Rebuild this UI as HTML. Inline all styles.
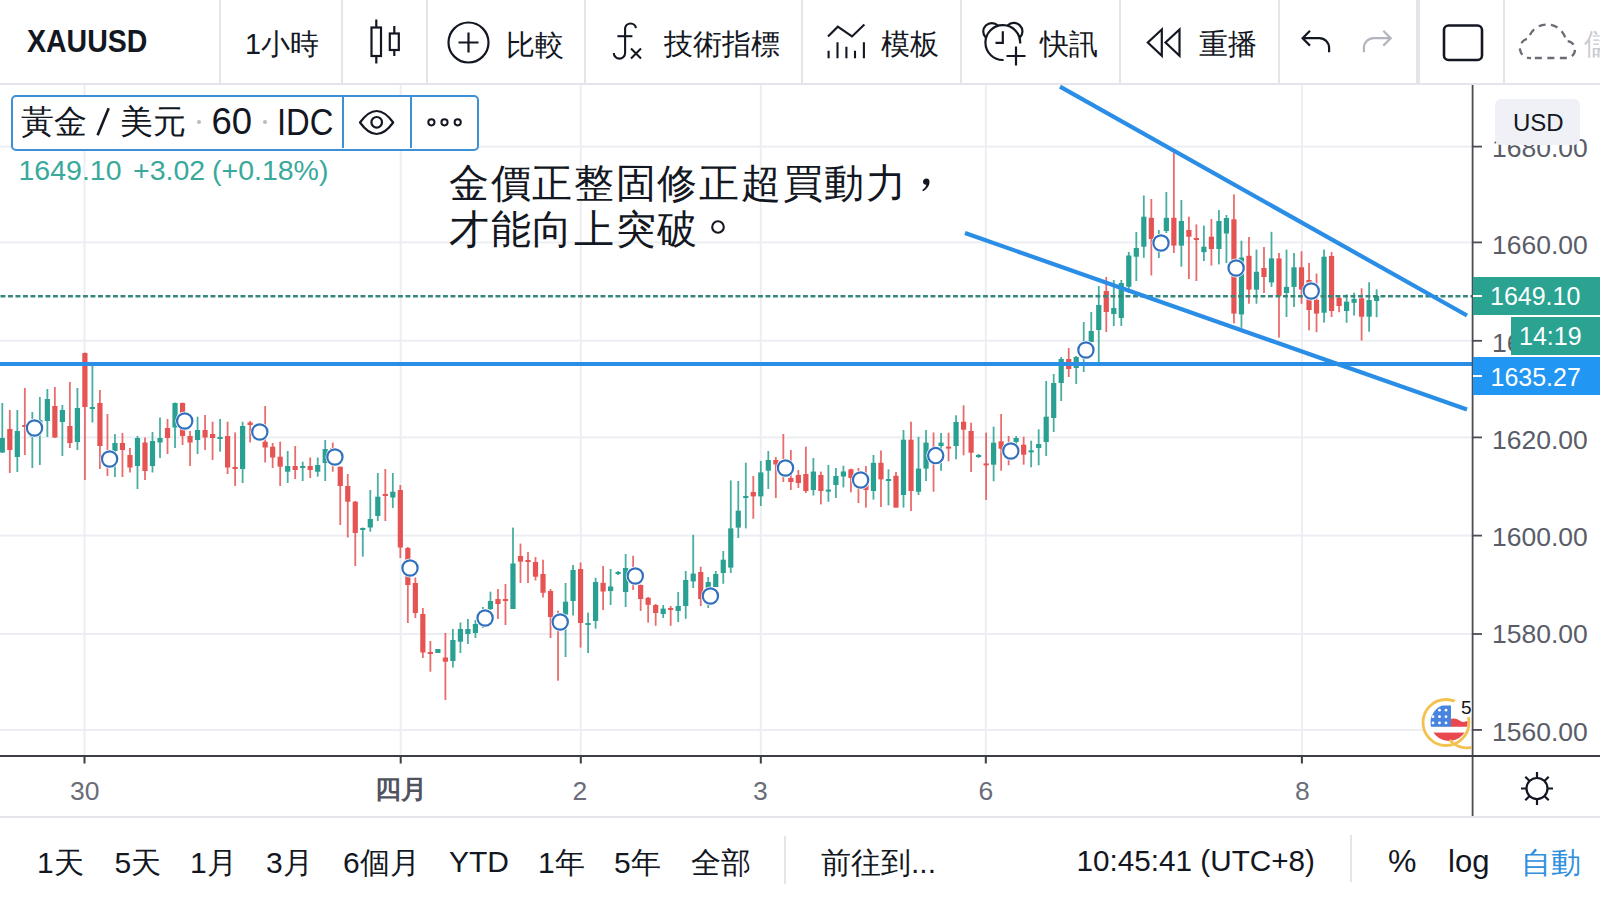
<!DOCTYPE html>
<html><head><meta charset="utf-8">
<style>
html,body{margin:0;padding:0;width:1600px;height:900px;overflow:hidden;background:#fff;}
body{font-family:"Liberation Sans",sans-serif;color:#131722;position:relative;}
.a{position:absolute;white-space:nowrap;line-height:1;}
.sep{position:absolute;background:#e3e5eb;}
.tb{font-size:28.8px;}
.pl{font-size:26.5px;color:#5a5d68;}
.tl{font-size:26.5px;color:#6a6d78;}
.bb{font-size:30px;}
</style></head><body>
<!-- chart svg -->
<svg class="a" style="left:0;top:0" width="1600" height="900" viewBox="0 0 1600 900">
<rect x="83.5" y="85" width="2" height="671" fill="#eceef3"/>
<rect x="399.7" y="85" width="2" height="671" fill="#eceef3"/>
<rect x="579.8" y="85" width="2" height="671" fill="#eceef3"/>
<rect x="759.8" y="85" width="2" height="671" fill="#eceef3"/>
<rect x="984.8" y="85" width="2" height="671" fill="#eceef3"/>
<rect x="1300.9" y="85" width="2" height="671" fill="#eceef3"/>
<rect x="0" y="145.6" width="1472" height="2" fill="#eceef3"/>
<rect x="0" y="241.4" width="1472" height="2" fill="#eceef3"/>
<rect x="0" y="339.8" width="1472" height="2" fill="#eceef3"/>
<rect x="0" y="436.4" width="1472" height="2" fill="#eceef3"/>
<rect x="0" y="534.6" width="1472" height="2" fill="#eceef3"/>
<rect x="0" y="633.0" width="1472" height="2" fill="#eceef3"/>
<rect x="0" y="728.9" width="1472" height="2" fill="#eceef3"/>
<rect x="1.40" y="403.0" width="1.8" height="50.0" fill="#29a091" fill-opacity="0.85"/>
<rect x="-0.30" y="438.0" width="5.2" height="14.5" fill="#29a091"/>
<rect x="8.91" y="410.0" width="1.8" height="63.0" fill="#e65353" fill-opacity="0.85"/>
<rect x="7.21" y="429.0" width="5.2" height="21.0" fill="#e65353"/>
<rect x="16.42" y="410.0" width="1.8" height="62.0" fill="#29a091" fill-opacity="0.85"/>
<rect x="14.72" y="431.0" width="5.2" height="26.0" fill="#29a091"/>
<rect x="23.93" y="388.0" width="1.8" height="67.0" fill="#e65353" fill-opacity="0.85"/>
<rect x="22.23" y="425.0" width="5.2" height="2.0" fill="#e65353"/>
<rect x="31.44" y="412.0" width="1.8" height="56.0" fill="#29a091" fill-opacity="0.85"/>
<rect x="29.74" y="420.0" width="5.2" height="17.0" fill="#29a091"/>
<rect x="38.95" y="397.0" width="1.8" height="68.0" fill="#29a091" fill-opacity="0.85"/>
<rect x="37.25" y="420.0" width="5.2" height="12.0" fill="#29a091"/>
<rect x="46.46" y="389.0" width="1.8" height="48.0" fill="#29a091" fill-opacity="0.85"/>
<rect x="44.76" y="399.0" width="5.2" height="22.0" fill="#29a091"/>
<rect x="53.97" y="387.0" width="1.8" height="51.0" fill="#e65353" fill-opacity="0.85"/>
<rect x="52.27" y="406.0" width="5.2" height="31.5" fill="#e65353"/>
<rect x="61.48" y="405.0" width="1.8" height="51.0" fill="#29a091" fill-opacity="0.85"/>
<rect x="59.78" y="410.0" width="5.2" height="12.0" fill="#29a091"/>
<rect x="68.99" y="382.0" width="1.8" height="66.0" fill="#e65353" fill-opacity="0.85"/>
<rect x="67.29" y="426.0" width="5.2" height="17.0" fill="#e65353"/>
<rect x="76.50" y="388.0" width="1.8" height="62.0" fill="#29a091" fill-opacity="0.85"/>
<rect x="74.80" y="408.0" width="5.2" height="34.0" fill="#29a091"/>
<rect x="84.01" y="352.5" width="1.8" height="127.5" fill="#e65353" fill-opacity="0.85"/>
<rect x="82.31" y="353.0" width="5.2" height="54.0" fill="#e65353"/>
<rect x="91.52" y="365.0" width="1.8" height="57.5" fill="#29a091" fill-opacity="0.85"/>
<rect x="89.82" y="407.0" width="5.2" height="2.0" fill="#29a091"/>
<rect x="99.03" y="390.0" width="1.8" height="79.0" fill="#e65353" fill-opacity="0.85"/>
<rect x="97.33" y="403.0" width="5.2" height="43.0" fill="#e65353"/>
<rect x="106.54" y="414.0" width="1.8" height="62.0" fill="#e65353" fill-opacity="0.85"/>
<rect x="104.84" y="452.0" width="5.2" height="14.0" fill="#e65353"/>
<rect x="114.05" y="434.0" width="1.8" height="43.0" fill="#29a091" fill-opacity="0.85"/>
<rect x="112.35" y="443.0" width="5.2" height="8.0" fill="#29a091"/>
<rect x="121.56" y="433.0" width="1.8" height="44.0" fill="#e65353" fill-opacity="0.85"/>
<rect x="119.86" y="443.0" width="5.2" height="7.0" fill="#e65353"/>
<rect x="129.07" y="448.0" width="1.8" height="24.5" fill="#e65353" fill-opacity="0.85"/>
<rect x="127.37" y="455.0" width="5.2" height="12.5" fill="#e65353"/>
<rect x="136.58" y="436.0" width="1.8" height="53.0" fill="#29a091" fill-opacity="0.85"/>
<rect x="134.88" y="438.0" width="5.2" height="28.0" fill="#29a091"/>
<rect x="144.09" y="437.5" width="1.8" height="42.5" fill="#e65353" fill-opacity="0.85"/>
<rect x="142.39" y="442.5" width="5.2" height="28.5" fill="#e65353"/>
<rect x="151.60" y="432.0" width="1.8" height="40.5" fill="#29a091" fill-opacity="0.85"/>
<rect x="149.90" y="441.0" width="5.2" height="25.0" fill="#29a091"/>
<rect x="159.11" y="417.5" width="1.8" height="40.5" fill="#29a091" fill-opacity="0.85"/>
<rect x="157.41" y="438.0" width="5.2" height="4.5" fill="#29a091"/>
<rect x="166.62" y="419.0" width="1.8" height="35.0" fill="#e65353" fill-opacity="0.85"/>
<rect x="164.92" y="428.0" width="5.2" height="10.0" fill="#e65353"/>
<rect x="174.13" y="402.5" width="1.8" height="45.5" fill="#29a091" fill-opacity="0.85"/>
<rect x="172.43" y="403.0" width="5.2" height="24.5" fill="#29a091"/>
<rect x="181.64" y="402.5" width="1.8" height="42.5" fill="#e65353" fill-opacity="0.85"/>
<rect x="179.94" y="403.0" width="5.2" height="33.0" fill="#e65353"/>
<rect x="189.15" y="431.0" width="1.8" height="35.0" fill="#e65353" fill-opacity="0.85"/>
<rect x="187.45" y="436.0" width="5.2" height="6.5" fill="#e65353"/>
<rect x="196.66" y="416.7" width="1.8" height="37.3" fill="#29a091" fill-opacity="0.85"/>
<rect x="194.96" y="430.0" width="5.2" height="10.0" fill="#29a091"/>
<rect x="204.17" y="415.0" width="1.8" height="35.0" fill="#e65353" fill-opacity="0.85"/>
<rect x="202.47" y="430.0" width="5.2" height="7.5" fill="#e65353"/>
<rect x="211.68" y="421.7" width="1.8" height="38.3" fill="#e65353" fill-opacity="0.85"/>
<rect x="209.98" y="434.0" width="5.2" height="4.0" fill="#e65353"/>
<rect x="219.19" y="419.0" width="1.8" height="32.7" fill="#29a091" fill-opacity="0.85"/>
<rect x="217.49" y="437.0" width="5.2" height="2.0" fill="#29a091"/>
<rect x="226.70" y="421.7" width="1.8" height="52.3" fill="#e65353" fill-opacity="0.85"/>
<rect x="225.00" y="436.0" width="5.2" height="31.5" fill="#e65353"/>
<rect x="234.21" y="432.5" width="1.8" height="53.5" fill="#e65353" fill-opacity="0.85"/>
<rect x="232.51" y="467.0" width="5.2" height="2.0" fill="#e65353"/>
<rect x="241.72" y="421.7" width="1.8" height="61.3" fill="#29a091" fill-opacity="0.85"/>
<rect x="240.02" y="426.0" width="5.2" height="43.0" fill="#29a091"/>
<rect x="249.23" y="421.0" width="1.8" height="21.5" fill="#e65353" fill-opacity="0.85"/>
<rect x="247.53" y="422.5" width="5.2" height="2.5" fill="#e65353"/>
<rect x="256.74" y="425.0" width="1.8" height="15.0" fill="#e65353" fill-opacity="0.85"/>
<rect x="255.04" y="430.0" width="5.2" height="5.0" fill="#e65353"/>
<rect x="264.25" y="406.0" width="1.8" height="56.5" fill="#e65353" fill-opacity="0.85"/>
<rect x="262.55" y="441.7" width="5.2" height="5.8" fill="#e65353"/>
<rect x="271.76" y="443.0" width="1.8" height="25.0" fill="#e65353" fill-opacity="0.85"/>
<rect x="270.06" y="446.7" width="5.2" height="10.8" fill="#e65353"/>
<rect x="279.27" y="441.7" width="1.8" height="44.3" fill="#e65353" fill-opacity="0.85"/>
<rect x="277.57" y="456.7" width="5.2" height="10.0" fill="#e65353"/>
<rect x="286.78" y="451.0" width="1.8" height="32.0" fill="#29a091" fill-opacity="0.85"/>
<rect x="285.08" y="466.0" width="5.2" height="5.7" fill="#29a091"/>
<rect x="294.29" y="446.0" width="1.8" height="33.0" fill="#e65353" fill-opacity="0.85"/>
<rect x="292.59" y="466.0" width="5.2" height="4.0" fill="#e65353"/>
<rect x="301.80" y="461.7" width="1.8" height="19.3" fill="#29a091" fill-opacity="0.85"/>
<rect x="300.10" y="466.0" width="5.2" height="2.0" fill="#29a091"/>
<rect x="309.31" y="457.5" width="1.8" height="20.5" fill="#e65353" fill-opacity="0.85"/>
<rect x="307.61" y="466.0" width="5.2" height="4.0" fill="#e65353"/>
<rect x="316.82" y="457.5" width="1.8" height="19.2" fill="#29a091" fill-opacity="0.85"/>
<rect x="315.12" y="465.0" width="5.2" height="6.7" fill="#29a091"/>
<rect x="324.33" y="440.0" width="1.8" height="41.0" fill="#29a091" fill-opacity="0.85"/>
<rect x="322.63" y="449.0" width="5.2" height="14.0" fill="#29a091"/>
<rect x="331.84" y="442.5" width="1.8" height="29.2" fill="#e65353" fill-opacity="0.85"/>
<rect x="330.14" y="448.0" width="5.2" height="14.0" fill="#e65353"/>
<rect x="339.35" y="466.7" width="1.8" height="58.3" fill="#e65353" fill-opacity="0.85"/>
<rect x="337.65" y="466.7" width="5.2" height="19.3" fill="#e65353"/>
<rect x="346.86" y="474.0" width="1.8" height="63.5" fill="#e65353" fill-opacity="0.85"/>
<rect x="345.16" y="486.0" width="5.2" height="15.7" fill="#e65353"/>
<rect x="354.37" y="501.0" width="1.8" height="65.0" fill="#e65353" fill-opacity="0.85"/>
<rect x="352.67" y="501.7" width="5.2" height="31.3" fill="#e65353"/>
<rect x="361.88" y="527.5" width="1.8" height="29.2" fill="#29a091" fill-opacity="0.85"/>
<rect x="360.18" y="528.0" width="5.2" height="2.0" fill="#29a091"/>
<rect x="369.39" y="490.0" width="1.8" height="41.7" fill="#29a091" fill-opacity="0.85"/>
<rect x="367.69" y="519.0" width="5.2" height="8.5" fill="#29a091"/>
<rect x="376.90" y="473.0" width="1.8" height="48.0" fill="#29a091" fill-opacity="0.85"/>
<rect x="375.20" y="496.7" width="5.2" height="19.3" fill="#29a091"/>
<rect x="384.41" y="469.0" width="1.8" height="52.0" fill="#e65353" fill-opacity="0.85"/>
<rect x="382.71" y="494.0" width="5.2" height="2.0" fill="#e65353"/>
<rect x="391.92" y="473.0" width="1.8" height="35.0" fill="#29a091" fill-opacity="0.85"/>
<rect x="390.22" y="491.7" width="5.2" height="5.8" fill="#29a091"/>
<rect x="399.43" y="485.0" width="1.8" height="73.0" fill="#e65353" fill-opacity="0.85"/>
<rect x="397.73" y="490.0" width="5.2" height="57.5" fill="#e65353"/>
<rect x="406.94" y="547.0" width="1.8" height="76.0" fill="#e65353" fill-opacity="0.85"/>
<rect x="405.24" y="548.0" width="5.2" height="37.0" fill="#e65353"/>
<rect x="414.45" y="577.5" width="1.8" height="40.5" fill="#e65353" fill-opacity="0.85"/>
<rect x="412.75" y="583.0" width="5.2" height="30.0" fill="#e65353"/>
<rect x="421.96" y="608.0" width="1.8" height="50.0" fill="#e65353" fill-opacity="0.85"/>
<rect x="420.26" y="614.0" width="5.2" height="38.5" fill="#e65353"/>
<rect x="429.47" y="641.0" width="1.8" height="30.7" fill="#e65353" fill-opacity="0.85"/>
<rect x="427.77" y="652.0" width="5.2" height="2.0" fill="#e65353"/>
<rect x="436.98" y="649.0" width="1.8" height="4.0" fill="#29a091" fill-opacity="0.85"/>
<rect x="435.28" y="649.0" width="5.2" height="4.0" fill="#29a091"/>
<rect x="444.49" y="633.0" width="1.8" height="67.0" fill="#e65353" fill-opacity="0.85"/>
<rect x="442.79" y="657.5" width="5.2" height="4.2" fill="#e65353"/>
<rect x="452.00" y="629.0" width="1.8" height="38.5" fill="#29a091" fill-opacity="0.85"/>
<rect x="450.30" y="640.0" width="5.2" height="21.0" fill="#29a091"/>
<rect x="459.51" y="622.5" width="1.8" height="30.5" fill="#29a091" fill-opacity="0.85"/>
<rect x="457.81" y="629.0" width="5.2" height="12.7" fill="#29a091"/>
<rect x="467.02" y="619.0" width="1.8" height="25.0" fill="#29a091" fill-opacity="0.85"/>
<rect x="465.32" y="629.0" width="5.2" height="5.0" fill="#29a091"/>
<rect x="474.53" y="620.0" width="1.8" height="18.0" fill="#29a091" fill-opacity="0.85"/>
<rect x="472.83" y="624.0" width="5.2" height="9.0" fill="#29a091"/>
<rect x="482.04" y="607.0" width="1.8" height="21.0" fill="#29a091" fill-opacity="0.85"/>
<rect x="480.34" y="612.0" width="5.2" height="10.0" fill="#29a091"/>
<rect x="489.55" y="591.7" width="1.8" height="18.3" fill="#29a091" fill-opacity="0.85"/>
<rect x="487.85" y="601.0" width="5.2" height="8.0" fill="#29a091"/>
<rect x="497.06" y="589.0" width="1.8" height="30.0" fill="#e65353" fill-opacity="0.85"/>
<rect x="495.36" y="599.0" width="5.2" height="5.0" fill="#e65353"/>
<rect x="504.57" y="584.0" width="1.8" height="41.0" fill="#e65353" fill-opacity="0.85"/>
<rect x="502.87" y="599.0" width="5.2" height="2.0" fill="#e65353"/>
<rect x="512.08" y="527.6" width="1.8" height="81.4" fill="#29a091" fill-opacity="0.85"/>
<rect x="510.38" y="563.5" width="5.2" height="45.5" fill="#29a091"/>
<rect x="519.59" y="543.6" width="1.8" height="39.4" fill="#e65353" fill-opacity="0.85"/>
<rect x="517.89" y="556.0" width="5.2" height="5.6" fill="#e65353"/>
<rect x="527.10" y="552.0" width="1.8" height="31.0" fill="#e65353" fill-opacity="0.85"/>
<rect x="525.40" y="560.0" width="5.2" height="2.0" fill="#e65353"/>
<rect x="534.61" y="557.0" width="1.8" height="23.5" fill="#e65353" fill-opacity="0.85"/>
<rect x="532.91" y="562.0" width="5.2" height="14.7" fill="#e65353"/>
<rect x="542.12" y="559.7" width="1.8" height="37.8" fill="#e65353" fill-opacity="0.85"/>
<rect x="540.42" y="574.0" width="5.2" height="18.8" fill="#e65353"/>
<rect x="549.63" y="589.0" width="1.8" height="49.0" fill="#e65353" fill-opacity="0.85"/>
<rect x="547.93" y="591.0" width="5.2" height="26.0" fill="#e65353"/>
<rect x="557.14" y="610.7" width="1.8" height="70.0" fill="#e65353" fill-opacity="0.85"/>
<rect x="555.44" y="615.0" width="5.2" height="13.0" fill="#e65353"/>
<rect x="564.65" y="583.0" width="1.8" height="74.0" fill="#29a091" fill-opacity="0.85"/>
<rect x="562.95" y="601.7" width="5.2" height="12.8" fill="#29a091"/>
<rect x="572.16" y="565.0" width="1.8" height="50.5" fill="#29a091" fill-opacity="0.85"/>
<rect x="570.46" y="570.0" width="5.2" height="31.0" fill="#29a091"/>
<rect x="579.67" y="562.5" width="1.8" height="85.1" fill="#e65353" fill-opacity="0.85"/>
<rect x="577.97" y="569.0" width="5.2" height="54.0" fill="#e65353"/>
<rect x="587.18" y="612.6" width="1.8" height="40.4" fill="#29a091" fill-opacity="0.85"/>
<rect x="585.48" y="623.0" width="5.2" height="2.0" fill="#29a091"/>
<rect x="594.69" y="577.7" width="1.8" height="51.0" fill="#29a091" fill-opacity="0.85"/>
<rect x="592.99" y="582.0" width="5.2" height="39.0" fill="#29a091"/>
<rect x="602.20" y="566.0" width="1.8" height="44.0" fill="#e65353" fill-opacity="0.85"/>
<rect x="600.50" y="582.8" width="5.2" height="8.7" fill="#e65353"/>
<rect x="609.71" y="569.0" width="1.8" height="36.0" fill="#29a091" fill-opacity="0.85"/>
<rect x="608.01" y="586.5" width="5.2" height="4.5" fill="#29a091"/>
<rect x="617.22" y="571.0" width="1.8" height="4.0" fill="#29a091" fill-opacity="0.85"/>
<rect x="615.52" y="572.0" width="5.2" height="2.0" fill="#29a091"/>
<rect x="624.73" y="554.0" width="1.8" height="53.0" fill="#29a091" fill-opacity="0.85"/>
<rect x="623.03" y="568.0" width="5.2" height="24.0" fill="#29a091"/>
<rect x="632.24" y="555.8" width="1.8" height="34.2" fill="#e65353" fill-opacity="0.85"/>
<rect x="630.54" y="570.0" width="5.2" height="14.0" fill="#e65353"/>
<rect x="639.75" y="584.5" width="1.8" height="26.5" fill="#e65353" fill-opacity="0.85"/>
<rect x="638.05" y="585.0" width="5.2" height="14.0" fill="#e65353"/>
<rect x="647.26" y="597.0" width="1.8" height="25.6" fill="#e65353" fill-opacity="0.85"/>
<rect x="645.56" y="597.8" width="5.2" height="7.0" fill="#e65353"/>
<rect x="654.77" y="604.0" width="1.8" height="21.8" fill="#e65353" fill-opacity="0.85"/>
<rect x="653.07" y="605.0" width="5.2" height="8.0" fill="#e65353"/>
<rect x="662.28" y="605.0" width="1.8" height="13.0" fill="#29a091" fill-opacity="0.85"/>
<rect x="660.58" y="608.6" width="5.2" height="5.4" fill="#29a091"/>
<rect x="669.79" y="606.0" width="1.8" height="19.8" fill="#e65353" fill-opacity="0.85"/>
<rect x="668.09" y="608.0" width="5.2" height="2.0" fill="#e65353"/>
<rect x="677.30" y="592.0" width="1.8" height="30.0" fill="#29a091" fill-opacity="0.85"/>
<rect x="675.60" y="606.0" width="5.2" height="5.0" fill="#29a091"/>
<rect x="684.81" y="571.0" width="1.8" height="47.8" fill="#29a091" fill-opacity="0.85"/>
<rect x="683.11" y="580.0" width="5.2" height="26.0" fill="#29a091"/>
<rect x="692.32" y="534.8" width="1.8" height="53.2" fill="#29a091" fill-opacity="0.85"/>
<rect x="690.62" y="573.6" width="5.2" height="7.8" fill="#29a091"/>
<rect x="699.83" y="566.7" width="1.8" height="39.3" fill="#e65353" fill-opacity="0.85"/>
<rect x="698.13" y="572.0" width="5.2" height="27.0" fill="#e65353"/>
<rect x="707.34" y="577.0" width="1.8" height="31.0" fill="#29a091" fill-opacity="0.85"/>
<rect x="705.64" y="582.0" width="5.2" height="16.0" fill="#29a091"/>
<rect x="714.85" y="571.0" width="1.8" height="16.0" fill="#29a091" fill-opacity="0.85"/>
<rect x="713.15" y="574.0" width="5.2" height="13.0" fill="#29a091"/>
<rect x="722.36" y="551.0" width="1.8" height="32.8" fill="#29a091" fill-opacity="0.85"/>
<rect x="720.66" y="559.7" width="5.2" height="13.3" fill="#29a091"/>
<rect x="729.87" y="480.4" width="1.8" height="92.6" fill="#29a091" fill-opacity="0.85"/>
<rect x="728.17" y="528.4" width="5.2" height="39.2" fill="#29a091"/>
<rect x="737.38" y="481.0" width="1.8" height="57.0" fill="#29a091" fill-opacity="0.85"/>
<rect x="735.68" y="510.7" width="5.2" height="16.9" fill="#29a091"/>
<rect x="744.89" y="462.7" width="1.8" height="65.7" fill="#29a091" fill-opacity="0.85"/>
<rect x="743.19" y="496.0" width="5.2" height="2.0" fill="#29a091"/>
<rect x="752.40" y="476.0" width="1.8" height="42.7" fill="#e65353" fill-opacity="0.85"/>
<rect x="750.70" y="492.0" width="5.2" height="4.4" fill="#e65353"/>
<rect x="759.91" y="461.0" width="1.8" height="45.0" fill="#29a091" fill-opacity="0.85"/>
<rect x="758.21" y="472.4" width="5.2" height="24.0" fill="#29a091"/>
<rect x="767.42" y="451.0" width="1.8" height="38.0" fill="#29a091" fill-opacity="0.85"/>
<rect x="765.72" y="460.0" width="5.2" height="10.7" fill="#29a091"/>
<rect x="774.93" y="457.0" width="1.8" height="41.0" fill="#e65353" fill-opacity="0.85"/>
<rect x="773.23" y="460.0" width="5.2" height="4.4" fill="#e65353"/>
<rect x="782.44" y="434.0" width="1.8" height="48.0" fill="#e65353" fill-opacity="0.85"/>
<rect x="780.74" y="462.0" width="5.2" height="13.0" fill="#e65353"/>
<rect x="789.95" y="450.0" width="1.8" height="40.0" fill="#e65353" fill-opacity="0.85"/>
<rect x="788.25" y="478.0" width="5.2" height="4.0" fill="#e65353"/>
<rect x="797.46" y="470.0" width="1.8" height="18.0" fill="#e65353" fill-opacity="0.85"/>
<rect x="795.76" y="475.0" width="5.2" height="8.0" fill="#e65353"/>
<rect x="804.97" y="446.7" width="1.8" height="46.3" fill="#e65353" fill-opacity="0.85"/>
<rect x="803.27" y="474.0" width="5.2" height="17.0" fill="#e65353"/>
<rect x="812.48" y="458.0" width="1.8" height="37.5" fill="#29a091" fill-opacity="0.85"/>
<rect x="810.78" y="471.6" width="5.2" height="18.4" fill="#29a091"/>
<rect x="819.99" y="471.6" width="1.8" height="32.8" fill="#e65353" fill-opacity="0.85"/>
<rect x="818.29" y="475.0" width="5.2" height="16.0" fill="#e65353"/>
<rect x="827.50" y="465.0" width="1.8" height="36.8" fill="#29a091" fill-opacity="0.85"/>
<rect x="825.80" y="489.6" width="5.2" height="2.0" fill="#29a091"/>
<rect x="835.01" y="468.0" width="1.8" height="30.0" fill="#29a091" fill-opacity="0.85"/>
<rect x="833.31" y="476.0" width="5.2" height="9.0" fill="#29a091"/>
<rect x="842.52" y="465.7" width="1.8" height="21.7" fill="#29a091" fill-opacity="0.85"/>
<rect x="840.82" y="471.5" width="5.2" height="5.0" fill="#29a091"/>
<rect x="850.03" y="468.6" width="1.8" height="23.8" fill="#e65353" fill-opacity="0.85"/>
<rect x="848.33" y="469.3" width="5.2" height="8.7" fill="#e65353"/>
<rect x="857.54" y="468.0" width="1.8" height="35.0" fill="#e65353" fill-opacity="0.85"/>
<rect x="855.84" y="474.0" width="5.2" height="12.0" fill="#e65353"/>
<rect x="865.05" y="466.0" width="1.8" height="41.6" fill="#e65353" fill-opacity="0.85"/>
<rect x="863.35" y="475.0" width="5.2" height="15.0" fill="#e65353"/>
<rect x="872.56" y="455.0" width="1.8" height="44.6" fill="#29a091" fill-opacity="0.85"/>
<rect x="870.86" y="462.8" width="5.2" height="28.2" fill="#29a091"/>
<rect x="880.07" y="450.5" width="1.8" height="56.5" fill="#e65353" fill-opacity="0.85"/>
<rect x="878.37" y="462.8" width="5.2" height="16.6" fill="#e65353"/>
<rect x="887.58" y="469.3" width="1.8" height="36.1" fill="#29a091" fill-opacity="0.85"/>
<rect x="885.88" y="479.0" width="5.2" height="2.0" fill="#29a091"/>
<rect x="895.09" y="472.0" width="1.8" height="35.6" fill="#e65353" fill-opacity="0.85"/>
<rect x="893.39" y="475.8" width="5.2" height="31.8" fill="#e65353"/>
<rect x="902.60" y="430.0" width="1.8" height="77.6" fill="#29a091" fill-opacity="0.85"/>
<rect x="900.90" y="439.7" width="5.2" height="55.3" fill="#29a091"/>
<rect x="910.11" y="421.7" width="1.8" height="89.3" fill="#e65353" fill-opacity="0.85"/>
<rect x="908.41" y="439.7" width="5.2" height="51.3" fill="#e65353"/>
<rect x="917.62" y="436.8" width="1.8" height="58.2" fill="#29a091" fill-opacity="0.85"/>
<rect x="915.92" y="468.6" width="5.2" height="23.1" fill="#29a091"/>
<rect x="925.13" y="430.0" width="1.8" height="51.0" fill="#29a091" fill-opacity="0.85"/>
<rect x="923.43" y="442.6" width="5.2" height="26.0" fill="#29a091"/>
<rect x="932.64" y="432.5" width="1.8" height="59.2" fill="#e65353" fill-opacity="0.85"/>
<rect x="930.94" y="449.0" width="5.2" height="13.0" fill="#e65353"/>
<rect x="940.15" y="433.0" width="1.8" height="37.8" fill="#29a091" fill-opacity="0.85"/>
<rect x="938.45" y="442.6" width="5.2" height="3.4" fill="#29a091"/>
<rect x="947.66" y="432.7" width="1.8" height="28.6" fill="#e65353" fill-opacity="0.85"/>
<rect x="945.96" y="446.6" width="5.2" height="2.0" fill="#e65353"/>
<rect x="955.17" y="415.3" width="1.8" height="44.0" fill="#29a091" fill-opacity="0.85"/>
<rect x="953.47" y="422.0" width="5.2" height="24.0" fill="#29a091"/>
<rect x="962.68" y="405.3" width="1.8" height="50.0" fill="#e65353" fill-opacity="0.85"/>
<rect x="960.98" y="421.7" width="5.2" height="8.0" fill="#e65353"/>
<rect x="970.19" y="422.7" width="1.8" height="49.3" fill="#e65353" fill-opacity="0.85"/>
<rect x="968.49" y="431.0" width="5.2" height="21.7" fill="#e65353"/>
<rect x="977.70" y="454.0" width="1.8" height="4.0" fill="#29a091" fill-opacity="0.85"/>
<rect x="976.00" y="455.0" width="5.2" height="2.0" fill="#29a091"/>
<rect x="985.21" y="432.7" width="1.8" height="67.3" fill="#e65353" fill-opacity="0.85"/>
<rect x="983.51" y="463.4" width="5.2" height="2.0" fill="#e65353"/>
<rect x="992.72" y="426.7" width="1.8" height="54.6" fill="#29a091" fill-opacity="0.85"/>
<rect x="991.02" y="442.7" width="5.2" height="22.0" fill="#29a091"/>
<rect x="1000.23" y="414.0" width="1.8" height="56.7" fill="#e65353" fill-opacity="0.85"/>
<rect x="998.53" y="441.3" width="5.2" height="7.4" fill="#e65353"/>
<rect x="1007.74" y="436.0" width="1.8" height="29.3" fill="#e65353" fill-opacity="0.85"/>
<rect x="1006.04" y="445.0" width="5.2" height="12.0" fill="#e65353"/>
<rect x="1015.25" y="436.0" width="1.8" height="8.0" fill="#29a091" fill-opacity="0.85"/>
<rect x="1013.55" y="438.0" width="5.2" height="4.0" fill="#29a091"/>
<rect x="1022.76" y="436.7" width="1.8" height="28.0" fill="#e65353" fill-opacity="0.85"/>
<rect x="1021.06" y="444.7" width="5.2" height="10.0" fill="#e65353"/>
<rect x="1030.27" y="440.7" width="1.8" height="26.6" fill="#29a091" fill-opacity="0.85"/>
<rect x="1028.57" y="450.3" width="5.2" height="2.0" fill="#29a091"/>
<rect x="1037.78" y="429.3" width="1.8" height="36.0" fill="#29a091" fill-opacity="0.85"/>
<rect x="1036.08" y="444.0" width="5.2" height="4.0" fill="#29a091"/>
<rect x="1045.29" y="381.0" width="1.8" height="75.0" fill="#29a091" fill-opacity="0.85"/>
<rect x="1043.59" y="416.7" width="5.2" height="25.3" fill="#29a091"/>
<rect x="1052.80" y="374.0" width="1.8" height="58.0" fill="#29a091" fill-opacity="0.85"/>
<rect x="1051.10" y="383.0" width="5.2" height="35.0" fill="#29a091"/>
<rect x="1060.31" y="357.0" width="1.8" height="44.0" fill="#29a091" fill-opacity="0.85"/>
<rect x="1058.61" y="359.0" width="5.2" height="24.0" fill="#29a091"/>
<rect x="1067.82" y="348.0" width="1.8" height="29.0" fill="#e65353" fill-opacity="0.85"/>
<rect x="1066.12" y="359.0" width="5.2" height="10.0" fill="#e65353"/>
<rect x="1075.33" y="356.0" width="1.8" height="28.0" fill="#29a091" fill-opacity="0.85"/>
<rect x="1073.63" y="357.0" width="5.2" height="11.0" fill="#29a091"/>
<rect x="1082.84" y="322.0" width="1.8" height="50.0" fill="#29a091" fill-opacity="0.85"/>
<rect x="1081.14" y="344.0" width="5.2" height="13.0" fill="#29a091"/>
<rect x="1090.35" y="312.0" width="1.8" height="30.0" fill="#29a091" fill-opacity="0.85"/>
<rect x="1088.65" y="331.0" width="5.2" height="11.0" fill="#29a091"/>
<rect x="1097.86" y="286.0" width="1.8" height="80.0" fill="#29a091" fill-opacity="0.85"/>
<rect x="1096.16" y="305.0" width="5.2" height="25.0" fill="#29a091"/>
<rect x="1105.37" y="277.0" width="1.8" height="55.0" fill="#e65353" fill-opacity="0.85"/>
<rect x="1103.67" y="291.0" width="5.2" height="21.0" fill="#e65353"/>
<rect x="1112.88" y="280.0" width="1.8" height="46.0" fill="#29a091" fill-opacity="0.85"/>
<rect x="1111.18" y="308.0" width="5.2" height="6.0" fill="#29a091"/>
<rect x="1120.39" y="280.0" width="1.8" height="46.0" fill="#29a091" fill-opacity="0.85"/>
<rect x="1118.69" y="283.0" width="5.2" height="35.0" fill="#29a091"/>
<rect x="1127.90" y="252.0" width="1.8" height="41.0" fill="#29a091" fill-opacity="0.85"/>
<rect x="1126.20" y="255.5" width="5.2" height="31.2" fill="#29a091"/>
<rect x="1135.41" y="232.0" width="1.8" height="49.0" fill="#29a091" fill-opacity="0.85"/>
<rect x="1133.71" y="248.0" width="5.2" height="8.7" fill="#29a091"/>
<rect x="1142.92" y="195.5" width="1.8" height="62.3" fill="#29a091" fill-opacity="0.85"/>
<rect x="1141.22" y="216.7" width="5.2" height="30.0" fill="#29a091"/>
<rect x="1150.43" y="199.0" width="1.8" height="76.5" fill="#e65353" fill-opacity="0.85"/>
<rect x="1148.73" y="217.8" width="5.2" height="21.2" fill="#e65353"/>
<rect x="1157.94" y="230.0" width="1.8" height="28.0" fill="#29a091" fill-opacity="0.85"/>
<rect x="1156.24" y="235.0" width="5.2" height="15.0" fill="#29a091"/>
<rect x="1165.45" y="192.0" width="1.8" height="41.0" fill="#29a091" fill-opacity="0.85"/>
<rect x="1163.75" y="217.8" width="5.2" height="13.2" fill="#29a091"/>
<rect x="1172.96" y="152.0" width="1.8" height="101.0" fill="#e65353" fill-opacity="0.85"/>
<rect x="1171.26" y="217.8" width="5.2" height="27.8" fill="#e65353"/>
<rect x="1180.47" y="200.0" width="1.8" height="66.7" fill="#29a091" fill-opacity="0.85"/>
<rect x="1178.77" y="221.0" width="5.2" height="24.6" fill="#29a091"/>
<rect x="1187.98" y="216.7" width="1.8" height="62.3" fill="#e65353" fill-opacity="0.85"/>
<rect x="1186.28" y="230.0" width="5.2" height="6.7" fill="#e65353"/>
<rect x="1195.49" y="224.4" width="1.8" height="56.6" fill="#e65353" fill-opacity="0.85"/>
<rect x="1193.79" y="238.0" width="5.2" height="2.0" fill="#e65353"/>
<rect x="1203.00" y="225.6" width="1.8" height="35.4" fill="#29a091" fill-opacity="0.85"/>
<rect x="1201.30" y="246.7" width="5.2" height="5.5" fill="#29a091"/>
<rect x="1210.51" y="219.0" width="1.8" height="46.6" fill="#e65353" fill-opacity="0.85"/>
<rect x="1208.81" y="236.7" width="5.2" height="12.3" fill="#e65353"/>
<rect x="1218.02" y="210.0" width="1.8" height="54.4" fill="#29a091" fill-opacity="0.85"/>
<rect x="1216.32" y="221.0" width="5.2" height="28.0" fill="#29a091"/>
<rect x="1225.53" y="215.0" width="1.8" height="48.0" fill="#29a091" fill-opacity="0.85"/>
<rect x="1223.83" y="218.0" width="5.2" height="15.5" fill="#29a091"/>
<rect x="1233.04" y="194.4" width="1.8" height="128.9" fill="#e65353" fill-opacity="0.85"/>
<rect x="1231.34" y="219.3" width="5.2" height="94.3" fill="#e65353"/>
<rect x="1240.55" y="240.7" width="1.8" height="87.1" fill="#29a091" fill-opacity="0.85"/>
<rect x="1238.85" y="257.6" width="5.2" height="56.8" fill="#29a091"/>
<rect x="1248.06" y="237.0" width="1.8" height="66.8" fill="#e65353" fill-opacity="0.85"/>
<rect x="1246.36" y="255.8" width="5.2" height="33.8" fill="#e65353"/>
<rect x="1255.57" y="249.6" width="1.8" height="54.2" fill="#29a091" fill-opacity="0.85"/>
<rect x="1253.87" y="271.8" width="5.2" height="17.8" fill="#29a091"/>
<rect x="1263.08" y="247.0" width="1.8" height="46.0" fill="#e65353" fill-opacity="0.85"/>
<rect x="1261.38" y="268.0" width="5.2" height="9.0" fill="#e65353"/>
<rect x="1270.59" y="231.8" width="1.8" height="55.1" fill="#29a091" fill-opacity="0.85"/>
<rect x="1268.89" y="258.4" width="5.2" height="24.0" fill="#29a091"/>
<rect x="1278.10" y="253.0" width="1.8" height="84.6" fill="#e65353" fill-opacity="0.85"/>
<rect x="1276.40" y="258.4" width="5.2" height="37.4" fill="#e65353"/>
<rect x="1285.61" y="249.6" width="1.8" height="67.4" fill="#29a091" fill-opacity="0.85"/>
<rect x="1283.91" y="286.9" width="5.2" height="6.1" fill="#29a091"/>
<rect x="1293.12" y="253.0" width="1.8" height="54.0" fill="#29a091" fill-opacity="0.85"/>
<rect x="1291.42" y="267.3" width="5.2" height="19.6" fill="#29a091"/>
<rect x="1300.63" y="251.3" width="1.8" height="52.5" fill="#e65353" fill-opacity="0.85"/>
<rect x="1298.93" y="267.3" width="5.2" height="22.3" fill="#e65353"/>
<rect x="1308.14" y="262.9" width="1.8" height="67.5" fill="#e65353" fill-opacity="0.85"/>
<rect x="1306.44" y="280.0" width="5.2" height="30.0" fill="#e65353"/>
<rect x="1315.65" y="273.6" width="1.8" height="58.6" fill="#e65353" fill-opacity="0.85"/>
<rect x="1313.95" y="300.0" width="5.2" height="13.6" fill="#e65353"/>
<rect x="1323.16" y="249.6" width="1.8" height="73.0" fill="#29a091" fill-opacity="0.85"/>
<rect x="1321.46" y="256.7" width="5.2" height="56.0" fill="#29a091"/>
<rect x="1330.67" y="252.0" width="1.8" height="65.0" fill="#e65353" fill-opacity="0.85"/>
<rect x="1328.97" y="256.0" width="5.2" height="55.0" fill="#e65353"/>
<rect x="1338.18" y="296.7" width="1.8" height="15.5" fill="#e65353" fill-opacity="0.85"/>
<rect x="1336.48" y="297.8" width="5.2" height="8.2" fill="#e65353"/>
<rect x="1345.69" y="294.4" width="1.8" height="28.4" fill="#29a091" fill-opacity="0.85"/>
<rect x="1343.99" y="301.7" width="5.2" height="9.3" fill="#29a091"/>
<rect x="1353.20" y="292.8" width="1.8" height="22.8" fill="#29a091" fill-opacity="0.85"/>
<rect x="1351.50" y="298.9" width="5.2" height="3.9" fill="#29a091"/>
<rect x="1360.71" y="288.3" width="1.8" height="52.3" fill="#e65353" fill-opacity="0.85"/>
<rect x="1359.01" y="298.3" width="5.2" height="18.4" fill="#e65353"/>
<rect x="1368.22" y="282.2" width="1.8" height="49.5" fill="#29a091" fill-opacity="0.85"/>
<rect x="1366.52" y="300.0" width="5.2" height="16.7" fill="#29a091"/>
<rect x="1375.73" y="289.4" width="1.8" height="27.8" fill="#29a091" fill-opacity="0.85"/>
<rect x="1374.03" y="296.0" width="5.2" height="5.0" fill="#29a091"/>
<line x1="0.5" y1="296.2" x2="1472" y2="296.2" stroke="#35877a" stroke-width="2.4" stroke-dasharray="4.9 2.6"/>
<rect x="0" y="362" width="1472" height="4" fill="#2a8ee6"/>
<line x1="1060" y1="86.7" x2="1467" y2="315.5" stroke="#2a8ee6" stroke-width="4.2"/>
<line x1="965" y1="233" x2="1467" y2="409.5" stroke="#2a8ee6" stroke-width="4.2"/>
<circle cx="34.5" cy="428" r="9.4" fill="#fff"/>
<circle cx="34.5" cy="428" r="7.65" fill="#fff" stroke="#3170bd" stroke-width="2.2"/>
<circle cx="109.6" cy="459" r="9.4" fill="#fff"/>
<circle cx="109.6" cy="459" r="7.65" fill="#fff" stroke="#3170bd" stroke-width="2.2"/>
<circle cx="184.7" cy="421" r="9.4" fill="#fff"/>
<circle cx="184.7" cy="421" r="7.65" fill="#fff" stroke="#3170bd" stroke-width="2.2"/>
<circle cx="259.8" cy="432" r="9.4" fill="#fff"/>
<circle cx="259.8" cy="432" r="7.65" fill="#fff" stroke="#3170bd" stroke-width="2.2"/>
<circle cx="334.9" cy="457" r="9.4" fill="#fff"/>
<circle cx="334.9" cy="457" r="7.65" fill="#fff" stroke="#3170bd" stroke-width="2.2"/>
<circle cx="410.0" cy="568" r="9.4" fill="#fff"/>
<circle cx="410.0" cy="568" r="7.65" fill="#fff" stroke="#3170bd" stroke-width="2.2"/>
<circle cx="485.1" cy="618" r="9.4" fill="#fff"/>
<circle cx="485.1" cy="618" r="7.65" fill="#fff" stroke="#3170bd" stroke-width="2.2"/>
<circle cx="560.2" cy="622" r="9.4" fill="#fff"/>
<circle cx="560.2" cy="622" r="7.65" fill="#fff" stroke="#3170bd" stroke-width="2.2"/>
<circle cx="635.3" cy="576" r="9.4" fill="#fff"/>
<circle cx="635.3" cy="576" r="7.65" fill="#fff" stroke="#3170bd" stroke-width="2.2"/>
<circle cx="710.4" cy="596" r="9.4" fill="#fff"/>
<circle cx="710.4" cy="596" r="7.65" fill="#fff" stroke="#3170bd" stroke-width="2.2"/>
<circle cx="785.5" cy="468" r="9.4" fill="#fff"/>
<circle cx="785.5" cy="468" r="7.65" fill="#fff" stroke="#3170bd" stroke-width="2.2"/>
<circle cx="860.6" cy="480" r="9.4" fill="#fff"/>
<circle cx="860.6" cy="480" r="7.65" fill="#fff" stroke="#3170bd" stroke-width="2.2"/>
<circle cx="935.7" cy="455.6" r="9.4" fill="#fff"/>
<circle cx="935.7" cy="455.6" r="7.65" fill="#fff" stroke="#3170bd" stroke-width="2.2"/>
<circle cx="1010.8" cy="451" r="9.4" fill="#fff"/>
<circle cx="1010.8" cy="451" r="7.65" fill="#fff" stroke="#3170bd" stroke-width="2.2"/>
<circle cx="1085.9" cy="350" r="9.4" fill="#fff"/>
<circle cx="1085.9" cy="350" r="7.65" fill="#fff" stroke="#3170bd" stroke-width="2.2"/>
<circle cx="1161.0" cy="243" r="9.4" fill="#fff"/>
<circle cx="1161.0" cy="243" r="7.65" fill="#fff" stroke="#3170bd" stroke-width="2.2"/>
<circle cx="1236.1" cy="268" r="9.4" fill="#fff"/>
<circle cx="1236.1" cy="268" r="7.65" fill="#fff" stroke="#3170bd" stroke-width="2.2"/>
<circle cx="1311.2" cy="291" r="9.4" fill="#fff"/>
<circle cx="1311.2" cy="291" r="7.65" fill="#fff" stroke="#3170bd" stroke-width="2.2"/>
<!-- toolbar border -->
<rect x="0" y="83" width="1600" height="2" fill="#e3e5eb"/>
<!-- price axis line -->
<rect x="1471.7" y="85" width="1.8" height="732" fill="#4a4d55"/>
<!-- time axis line -->
<rect x="0" y="755" width="1600" height="2" fill="#3a3d45"/>
<rect x="0" y="816" width="1600" height="2" fill="#e3e5eb"/>
<!-- time ticks -->
<rect x="83.5" y="756" width="2" height="7.5" fill="#3a3d45"/>
<rect x="399.7" y="756" width="2" height="7.5" fill="#3a3d45"/>
<rect x="579.8" y="756" width="2" height="7.5" fill="#3a3d45"/>
<rect x="759.8" y="756" width="2" height="7.5" fill="#3a3d45"/>
<rect x="984.8" y="756" width="2" height="7.5" fill="#3a3d45"/>
<rect x="1300.9" y="756" width="2" height="7.5" fill="#3a3d45"/>
<!-- price ticks -->
<rect x="1472" y="145.7" width="10" height="1.8" fill="#4a4d55"/>
<rect x="1472" y="241.5" width="10" height="1.8" fill="#4a4d55"/>
<rect x="1472" y="339.9" width="10" height="1.8" fill="#4a4d55"/>
<rect x="1472" y="436.5" width="10" height="1.8" fill="#4a4d55"/>
<rect x="1472" y="534.7" width="10" height="1.8" fill="#4a4d55"/>
<rect x="1472" y="633.1" width="10" height="1.8" fill="#4a4d55"/>
<rect x="1472" y="729.0" width="10" height="1.8" fill="#4a4d55"/>
</svg>

<!-- toolbar separators -->
<div class="sep" style="left:219px;top:0;width:2px;height:83px"></div>
<div class="sep" style="left:341px;top:0;width:2px;height:83px"></div>
<div class="sep" style="left:426px;top:0;width:2px;height:83px"></div>
<div class="sep" style="left:584px;top:0;width:2px;height:83px"></div>
<div class="sep" style="left:801px;top:0;width:2px;height:83px"></div>
<div class="sep" style="left:960px;top:0;width:2px;height:83px"></div>
<div class="sep" style="left:1119px;top:0;width:2px;height:83px"></div>
<div class="sep" style="left:1278px;top:0;width:2px;height:83px"></div>
<div class="sep" style="left:1416px;top:0;width:4px;height:83px"></div>
<div class="sep" style="left:1503px;top:0;width:2px;height:83px"></div>

<!-- toolbar text -->
<div class="a" style="left:27px;top:26px;font-size:31.5px;font-weight:bold;transform:scaleX(0.905);transform-origin:0 0;">XAUUSD</div>
<div class="a tb" style="left:245px;top:30px;">1小時</div>
<div class="a tb" style="left:505.5px;top:30.5px;">比較</div>
<div class="a tb" style="left:664px;top:30px;">技術指標</div>
<div class="a tb" style="left:881px;top:30px;">模板</div>
<div class="a tb" style="left:1040px;top:30px;">快訊</div>
<div class="a tb" style="left:1199px;top:30px;">重播</div>
<div class="a tb" style="left:1584px;top:30px;color:#c8cad0;">儲</div>

<!-- toolbar icons -->
<svg class="a" style="left:0;top:0" width="1600" height="84" viewBox="0 0 1600 84" fill="none" stroke="#131722" stroke-width="2.2">
  <!-- candles -->
  <path d="M376.3 19.5v8M376.3 56v7.5M394.3 26v7M394.3 50v6"/>
  <rect x="371.5" y="27.5" width="9.5" height="28.5"/>
  <rect x="389.8" y="33.5" width="9" height="16.5"/>
  <!-- plus circle -->
  <circle cx="468.5" cy="42.5" r="20"/>
  <path d="M458.5 42.5h20M468.5 32.5v20"/>
  <!-- fx -->
  <path d="M636 28.2A5.5 5.5 0 0 0 625.1 28.2V53A5.6 5.6 0 0 1 613.8 53" stroke-width="2.1"/>
  <path d="M617.4 36.2h15" stroke-width="2.1"/>
  <path d="M631 48.5l10 10M641 48.5l-10 10" stroke-width="2.1"/>
  <!-- template -->
  <path d="M828 36.4L837.8 26.7L852 36.4L864.4 24.4" stroke-width="2.1"/>
  <path d="M828.6 50.8v7.5M837.5 42.2v16.1M846.4 46.7v11.6M855 50.8v7.5M863.9 42.2v16.1" stroke-width="2.1"/>
  <!-- alarm -->
  <path d="M1003.6 60A17.4 17.4 0 1 1 1020.2 43.5" stroke-width="2.2"/>
  <path d="M985.7 37.6A7.6 7.6 0 1 1 997.9 25.6M1007.6 25.6A7.6 7.6 0 1 1 1020 37.6" stroke-width="2.2"/>
  <path d="M1002.8 31.2v11.6h-7.3" stroke-width="2.2"/>
  <path d="M1016 46.5v19M1006.5 56h19" stroke-width="2.2"/>
  <!-- rewind -->
  <path d="M1161.8 29.5L1147.8 42.5l14 13.3zM1179.5 29.5L1165.5 42.5l14 13.3z" stroke-width="2.2" stroke-linejoin="miter"/>
  <!-- undo -->
  <path d="M1310 30.8l-7.4 7.4 7.4 7.4M1302.8 38.2h16.5a9.8 9.8 0 0 1 9.8 9.8v4.2" stroke-width="2.2"/>
  <!-- redo -->
  <path d="M1383.3 30.8l7.4 7.4-7.4 7.4M1390.5 38.2h-16.8a9.8 9.8 0 0 0-9.8 9.8v4.2" stroke="#b2b5be" stroke-width="2.2"/>
  <!-- square -->
  <rect x="1444" y="25.5" width="38" height="34.5" rx="4.5" stroke-width="2.6"/>
  <!-- cloud -->
  <path d="M1531 58A9.8 9.8 0 0 1 1528.5 38.5A19.2 19.2 0 0 1 1566 41A8.4 8.4 0 0 1 1567 58Z" stroke="#6a6d75" stroke-dasharray="7 5.5" stroke-dashoffset="3" stroke-width="2.3"/>
</svg>

<!-- legend box -->
<div class="a" style="left:11px;top:95px;width:464px;height:52px;border:2px solid #3d8fd6;border-radius:5px;background:#fff;"></div>
<div class="a" style="left:342px;top:96px;width:2px;height:52px;background:#3d8fd6;"></div>
<div class="a" style="left:410px;top:96px;width:2px;height:52px;background:#3d8fd6;"></div>
<div class="a" style="left:21px;top:105px;font-size:33px;">黃金</div>
<svg class="a" style="left:90px;top:100px" width="30" height="45" viewBox="90 100 30 45"><path d="M97.6 135.3L108.7 108.3" stroke="#131722" stroke-width="2.6" stroke-linecap="butt"/></svg>
<div class="a" style="left:120px;top:105px;font-size:33px;">美元</div>
<div class="a" style="left:197px;top:119.5px;width:4px;height:4px;border-radius:2px;background:#b8bbc3;"></div>
<div class="a" style="left:262.5px;top:119.5px;width:4px;height:4px;border-radius:2px;background:#b8bbc3;"></div>
<div class="a" style="left:211.5px;top:104px;font-size:36.5px;">60</div>
<div class="a" style="left:277px;top:103.5px;font-size:37px;transform:scaleX(0.885);transform-origin:0 0;">IDC</div>
<svg class="a" style="left:340px;top:95px" width="140" height="55" viewBox="340 95 140 55" fill="none" stroke="#131722" stroke-width="2.2">
  <path d="M360 122.5Q376.6 99.5 393.2 122.5Q376.6 145.5 360 122.5z" stroke-linejoin="round"/>
  <circle cx="376.7" cy="122.3" r="5.3"/>
  <circle cx="431.4" cy="122.3" r="3.1" stroke-width="2"/>
  <circle cx="444.5" cy="122.3" r="3.1" stroke-width="2"/>
  <circle cx="457.7" cy="122.3" r="3.1" stroke-width="2"/>
</svg>
<div class="a" style="left:18.5px;top:155.5px;font-size:28.5px;color:#3aa99b;">1649.10</div><div class="a" style="left:133px;top:155.5px;font-size:28.5px;color:#3aa99b;">+3.02</div><div class="a" style="left:212px;top:155.5px;font-size:28.5px;color:#3aa99b;">(+0.18%)</div>

<!-- annotation -->
<div class="a" style="left:449px;top:163px;font-size:40px;letter-spacing:1.7px;color:#131722;">金價正整固修正超買動力</div>
<div class="a" style="left:449px;top:208.5px;font-size:40px;letter-spacing:1.7px;color:#131722;">才能向上突破</div>
<svg class="a" style="left:898.5px;top:161px" width="60" height="90" viewBox="900 160 60 90">
<path d="M927.5 177.5c2.2 0 3 1.6 3 3.4c0 3.5-2.5 7.2-6.5 9.3l-.8-1.2c2.4-1.5 3.8-3.4 4-5.3c-1.9 0-3.2-1.2-3.2-3c0-1.8 1.4-3.2 3.5-3.2z" fill="#131722"/>
<circle cx="718" cy="227" r="6" transform="translate(0 0)" fill="none"/>
</svg>
<svg class="a" style="left:700px;top:210px" width="40" height="40" viewBox="700 210 40 40"><circle cx="718" cy="227" r="5.8" fill="none" stroke="#131722" stroke-width="2.1"/></svg>

<!-- price axis -->
<div class="a pl" style="left:1492px;top:135px;">1680.00</div>
<div class="a" style="left:1495px;top:99px;width:85px;height:46px;background:#eff1f7;border-radius:6px;"></div>
<div class="a" style="left:1513px;top:111px;font-size:24px;color:#131722;">USD</div>
<div class="a pl" style="left:1492px;top:232px;">1660.00</div>
<div class="a pl" style="left:1492px;top:329.5px;">1640.00</div>
<div class="a pl" style="left:1492px;top:426.5px;">1620.00</div>
<div class="a pl" style="left:1492px;top:524px;">1600.00</div>
<div class="a pl" style="left:1492px;top:621px;">1580.00</div>
<div class="a pl" style="left:1492px;top:718.5px;">1560.00</div>
<div class="a" style="left:1473px;top:277px;width:127px;height:38px;background:#2aa393;"></div>
<div class="a" style="left:1473px;top:295px;width:9px;height:2px;background:#fff;"></div>
<div class="a" style="left:1490px;top:284px;font-size:25px;color:#fff;">1649.10</div>
<div class="a" style="left:1511px;top:317px;width:89px;height:38px;background:#2aa393;"></div>
<div class="a" style="left:1519px;top:324px;font-size:25px;color:#fff;">14:19</div>
<div class="a" style="left:1473px;top:357px;width:127px;height:38px;background:#2196f3;"></div>
<div class="a" style="left:1473px;top:375px;width:9px;height:2px;background:#fff;"></div>
<div class="a" style="left:1490.5px;top:364.5px;font-size:25px;color:#fff;">1635.27</div>

<!-- flag icon -->
<svg class="a" style="left:1415px;top:690px" width="58" height="65" viewBox="1415 690 58 65">
  <defs><clipPath id="cl"><rect x="1415" y="690" width="56.3" height="65"/></clipPath>
  <clipPath id="fc"><circle cx="1449" cy="722.5" r="18.5"/></clipPath></defs>
  <g clip-path="url(#cl)">
  <circle cx="1446" cy="722.5" r="23" fill="#fff" stroke="#f3c24e" stroke-width="2.8"/>
  <g clip-path="url(#fc)">
    <rect x="1425" y="700" width="50" height="45" fill="#fff"/>
    <path d="M1451 719c6-2 9 3 12 3s5-2 12-2v6.8h-24z" fill="#e8484e"/>
    <rect x="1425" y="732.6" width="50" height="10" fill="#e8484e"/>
    <rect x="1425" y="705.5" width="26" height="21.3" fill="#4684e0"/>
    <g fill="#fff"><circle cx="1433" cy="710.2" r="1.4"/><circle cx="1439.5" cy="710.2" r="1.4"/><circle cx="1446" cy="710.2" r="1.4"/>
    <circle cx="1433" cy="716.7" r="1.4"/><circle cx="1439.5" cy="716.7" r="1.4"/><circle cx="1446" cy="716.7" r="1.4"/>
    <circle cx="1433" cy="722.9" r="1.4"/><circle cx="1439.5" cy="722.9" r="1.4"/><circle cx="1446" cy="722.9" r="1.4"/></g>
  </g>
  <path d="M1449.7 739.8A22 22 0 0 0 1473 747" fill="none" stroke="#f3c24e" stroke-width="2.8"/>
  <circle cx="1464" cy="707" r="11" fill="#fff"/>
  </g>
</svg>
<div class="a" style="left:1461px;top:698px;font-size:19px;color:#131722;">5</div>

<!-- time axis labels -->
<div class="a tl" style="left:70px;top:778px;">30</div>
<div class="a tl" style="left:375px;top:777px;font-weight:bold;color:#50535e;font-size:25.5px;">四月</div>
<div class="a tl" style="left:572.5px;top:778px;">2</div>
<div class="a tl" style="left:753px;top:778px;">3</div>
<div class="a tl" style="left:978.5px;top:778px;">6</div>
<div class="a tl" style="left:1295px;top:778px;">8</div>
<svg class="a" style="left:1510px;top:762px" width="54" height="54" viewBox="1510 762 54 54" fill="none" stroke="#131722" stroke-width="2.2">
  <circle cx="1537" cy="788.5" r="10.5"/>
  <path d="M1537 772v6M1537 799v6M1521 788.5h6M1547 788.5h6M1525.3 776.8l4 4M1544.7 796.2l4 4M1548.7 776.8l-4 4M1529.3 796.2l-4 4"/>
</svg>

<!-- bottom bar -->
<div class="a bb" style="left:37px;top:848px;">1天</div>
<div class="a bb" style="left:114.5px;top:848px;">5天</div>
<div class="a bb" style="left:190px;top:848px;">1月</div>
<div class="a bb" style="left:266px;top:848px;">3月</div>
<div class="a bb" style="left:343px;top:848px;">6個月</div>
<div class="a bb" style="left:449px;top:846.5px;">YTD</div>
<div class="a bb" style="left:538px;top:848px;">1年</div>
<div class="a bb" style="left:614px;top:848px;">5年</div>
<div class="a bb" style="left:691px;top:848px;">全部</div>
<div class="sep" style="left:784px;top:836px;width:2px;height:48px;"></div>
<div class="a bb" style="left:821px;top:848px;">前往到...</div>
<div class="a bb" style="left:1076.5px;top:846px;font-size:29.7px;">10:45:41 (UTC+8)</div>
<div class="sep" style="left:1350px;top:835px;width:2px;height:47px;"></div>
<div class="a bb" style="left:1388px;top:845px;font-size:32px;">%</div>
<div class="a bb" style="left:1448px;top:846px;font-size:31px;">log</div>
<div class="a bb" style="left:1521px;top:848px;color:#2f8fdc;">自動</div>
</body></html>
